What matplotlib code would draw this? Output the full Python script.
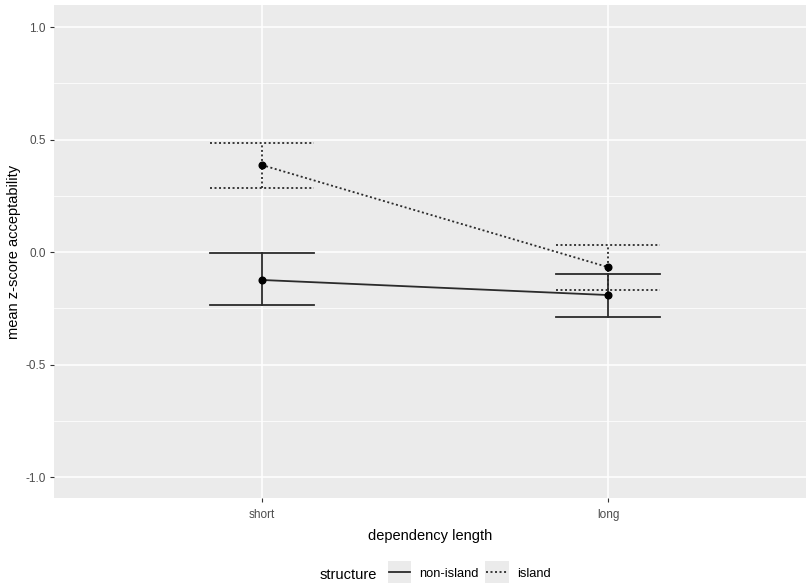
import matplotlib
matplotlib.use("Agg")
import matplotlib.pyplot as plt
from matplotlib.lines import Line2D
from matplotlib.patches import Rectangle
from matplotlib.legend_handler import HandlerLine2D

plt.rcParams["font.family"] = ["Liberation Sans", "DejaVu Sans"]

categories = ["short", "long"]
structures = ["non-island", "island"]
means = {"non-island": [-0.124, -0.191], "island": [0.387, -0.067]}
upper = {"non-island": [-0.004, -0.098], "island": [0.484, 0.031]}
lower = {"non-island": [-0.236, -0.289], "island": [0.284, -0.169]}
yticks = [-1.0, -0.5, 0.0, 0.5, 1.0]
yticklabels = ["-1.0", "-0.5", "0.0", "0.5", "1.0"]

styles = {"non-island": dict(linestyle="-"), "island": dict(linestyle=(0, (1.1, 1.4)))}
lw = 1.3
col = "#2b2b2b"

fig = plt.figure(figsize=(8.06, 5.83), dpi=100)
ax = fig.add_axes([54/806, 85/583, 1 - 54/806, 493/583])
ax.set_facecolor("#ebebeb")
for s in ax.spines.values():
    s.set_visible(False)

x = list(range(1, len(categories) + 1))
for st in structures:
    ls = styles[st]["linestyle"]
    ax.plot(x, means[st], color=col, lw=lw, linestyle=ls, zorder=3)
    for xi, lo, hi in zip(x, lower[st], upper[st]):
        ax.plot([xi, xi], [lo, hi], color=col, lw=lw, linestyle=ls, zorder=3)
        ax.plot([xi - 0.15, xi + 0.15], [hi, hi], color=col, lw=lw, linestyle=ls, zorder=3)
        ax.plot([xi - 0.15, xi + 0.15], [lo, lo], color=col, lw=lw, linestyle=ls, zorder=3)
    ax.plot(x, means[st], "o", color="black", ms=4.8, zorder=4)

ax.set_xlim(0.4, 2.572)
ax.set_ylim(-1.093, 1.098)
ax.set_xticks(x)
ax.set_xticklabels(categories)
ax.set_yticks(yticks)
ax.set_yticklabels(yticklabels)
ax.set_yticks([-0.75, -0.25, 0.25, 0.75], minor=True)
ax.grid(True, which="major", color="white", lw=1.1)
ax.grid(True, which="minor", axis="y", color="white", lw=0.55)
ax.set_axisbelow(True)
ax.tick_params(axis="both", which="major", colors="#333333", labelcolor="#4d4d4d",
               labelsize=8.5, length=3, width=0.8, pad=3)
ax.tick_params(axis="x", which="major", pad=5)
ax.tick_params(axis="y", which="minor", length=0)
ax.set_xlabel("dependency length", fontsize=10.5, color="black", labelpad=6)
ax.set_ylabel("mean z-score acceptability", fontsize=10.5, color="black", labelpad=3)


class BgHandler(HandlerLine2D):
    def create_artists(self, legend, orig_handle, xdescent, ydescent, width, height, fontsize, trans):
        rect = Rectangle((-xdescent - 1, -ydescent - 5), width + 2, height + 10,
                         facecolor="#ebebeb", edgecolor="none", transform=trans)
        arts = super().create_artists(legend, orig_handle, xdescent, ydescent, width, height, fontsize, trans)
        return [rect] + arts


handles = [Line2D([], [], color=col, lw=lw, linestyle=styles[s]["linestyle"]) for s in structures]
leg = fig.legend(handles, structures, loc="center left", bbox_to_anchor=(389/806, 1 - 574/583),
                 ncol=2, frameon=False, fontsize=9.3, handlelength=1.6, handletextpad=0.75,
                 columnspacing=0.6, handler_map={Line2D: BgHandler()}, borderpad=0, borderaxespad=0)
fig.text(348/806, 1 - 575/583, "structure", fontsize=10.5, ha="center", va="center")

fig.savefig("out.png", dpi=100)
